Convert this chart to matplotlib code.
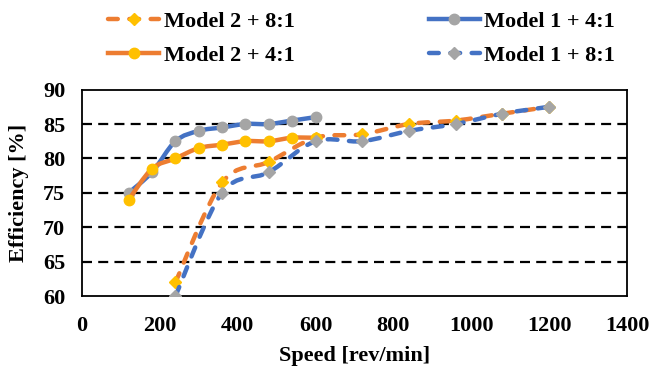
import matplotlib
matplotlib.use("Agg")
import matplotlib.pyplot as plt
from matplotlib.path import Path
from matplotlib.patches import PathPatch
from matplotlib.lines import Line2D
import numpy as np

# ---- data ----
speed_4 = [120, 180, 240, 300, 360, 420, 480, 540, 600]
model1_4 = [75, 78, 82.5, 84, 84.5, 85, 85, 85.5, 86]
model2_4 = [74, 78.5, 80, 81.5, 82, 82.5, 82.5, 83, 83]
speed_8 = [240, 360, 480, 600, 720, 840, 960, 1080, 1200]
model2_8 = [62, 76.5, 79.5, 83, 83.5, 85, 85.5, 86.5, 87.5]
model1_8 = [60, 75, 78, 82.5, 82.5, 84, 85, 86.5, 87.5]

xticks = [0, 200, 400, 600, 800, 1000, 1200, 1400]
yticks = [60, 65, 70, 75, 80, 85, 90]

ORANGE = "#ED7D31"
BLUE = "#4472C4"
GRAY = "#A5A5A5"
YELLOW = "#FFC000"

plt.rcParams['font.family'] = ['Liberation Serif', 'DejaVu Serif']
plt.rcParams['font.weight'] = 'bold'
FS = 16

fig = plt.figure(figsize=(6.52, 3.70), dpi=100)
ax = fig.add_axes([82/652, 1-296/370, (627-82)/652, (296-89.6)/370])


def smooth_path(x, y):
    p = np.column_stack([x, y]).astype(float)
    n = len(p)
    verts = [p[0]]
    codes = [Path.MOVETO]
    for i in range(n - 1):
        p0 = p[i - 1] if i > 0 else p[i]
        p1 = p[i]
        p2 = p[i + 1]
        p3 = p[i + 2] if i + 2 < n else p[i + 1]
        c1 = p1 + (p2 - p0) / 6.0
        c2 = p2 - (p3 - p1) / 6.0
        verts += [c1, c2, p2]
        codes += [Path.CURVE4] * 3
    return Path(verts, codes)


LW = 3.2
DASH = (0, (2.2, 2.6))

series = [
    (speed_8, model2_8, ORANGE, DASH, 'D', YELLOW, 6.5, "Model 2 + 8:1"),
    (speed_4, model1_4, BLUE, '-', 'o', GRAY, 7.5, "Model 1 + 4:1"),
    (speed_4, model2_4, ORANGE, '-', 'o', YELLOW, 7.5, "Model 2 + 4:1"),
    (speed_8, model1_8, BLUE, DASH, 'D', GRAY, 6.5, "Model 1 + 8:1"),
]

handles = {}
for z, (xs, ys, lc, ls, mk, mc, ms, lab) in enumerate(series):
    patch = PathPatch(smooth_path(xs, ys), fill=False, edgecolor=lc,
                      linewidth=LW, linestyle=ls, capstyle='round',
                      zorder=3 + 2 * z)
    ax.add_patch(patch)
    ax.plot(xs, ys, linestyle='none', marker=mk, markersize=ms,
            markerfacecolor=mc, markeredgecolor=mc, zorder=4 + 2 * z)
    handles[lab] = Line2D([], [], color=lc, linewidth=LW, linestyle=ls,
                          dash_capstyle='round', marker=mk, markersize=ms,
                          markerfacecolor=mc, markeredgecolor=mc)

ax.set_xlim(0, 1400)
ax.set_ylim(60, 90)
ax.set_xticks(xticks)
ax.set_yticks(yticks)
ax.tick_params(axis='both', length=0, labelsize=FS)
ax.tick_params(axis='x', pad=14.5)
ax.tick_params(axis='y', pad=12)
for lbl in ax.get_xticklabels() + ax.get_yticklabels():
    lbl.set_fontweight('bold')

for yv in [65, 70, 75, 80, 85]:
    ax.axhline(yv, color='black', linewidth=1.6, linestyle=(0, (4.5, 2.8)),
               zorder=1)

for s in ax.spines.values():
    s.set_linewidth(1.3)
    s.set_color('black')

ax.set_xlabel("Speed [rev/min]", fontsize=FS, fontweight='bold', labelpad=7)
ax.set_ylabel("Efficiency [%]", fontsize=FS, fontweight='bold', labelpad=10)

order = ["Model 2 + 8:1", "Model 2 + 4:1", "Model 1 + 4:1", "Model 1 + 8:1"]
leg = fig.legend([handles[k] for k in order], order, ncol=2,
                 loc='upper left', bbox_to_anchor=(108/652, 1-11/370),
                 frameon=False, fontsize=FS, handlelength=2.3,
                 handletextpad=0.2, columnspacing=6.05, labelspacing=0.62,
                 borderpad=0, borderaxespad=0,
                 prop={'weight': 'bold', 'size': FS})

fig.savefig("out.png", dpi=100)
